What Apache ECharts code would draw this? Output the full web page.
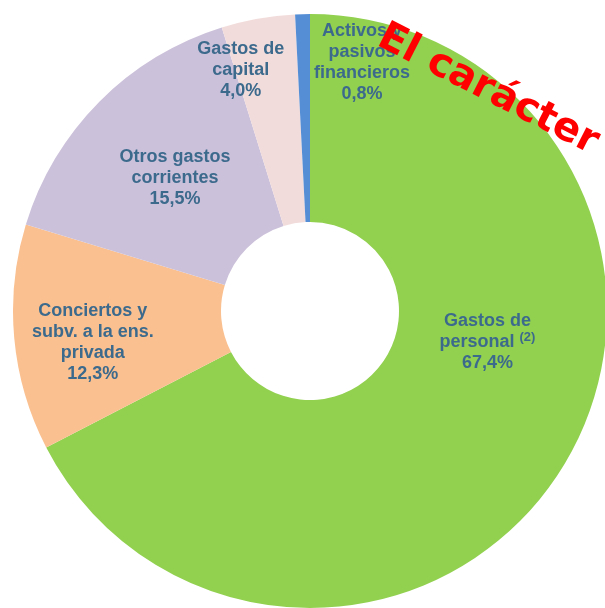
<!DOCTYPE html>
<html>
<head>
<meta charset="utf-8">
<script src="https://cdn.jsdelivr.net/npm/echarts@6/dist/echarts.min.js"></script>
<style>
  html, body { margin: 0; padding: 0; background: #fff; }
  #main { width: 605px; height: 608px; }
</style>
</head>
<body>
<div id="main"></div>
<script>
// data
var categories = ['Gastos de personal', 'Conciertos y subv. a la ens. privada', 'Otros gastos corrientes', 'Gastos de capital', 'Activos y pasivos financieros']
var labelLines = [
  ['Gastos de', 'personal {sup|(2)}'],
  ['Conciertos y', 'subv. a la ens.', 'privada'],
  ['Otros gastos', 'corrientes'],
  ['Gastos de', 'capital'],
  ['Activos y', 'pasivos', 'financieros']
]
var values = [67.4, 12.3, 15.5, 4.0, 0.8]
var colors = ['#92D050', '#FAC090', '#CCC1DA', '#F2DCDB', '#558ED5']

// label nudges from default inside position
var labelShift = [[10, -71], [-22, 14], [4, 5], [-35, -48], [57, -53]]

var chart = echarts.init(document.getElementById('main'))

var seriesData = values.map(function (v, i) {
  return { name: categories[i], value: v, itemStyle: { color: colors[i] } }
})

chart.setOption({
  animation: false,
  series: [{
    type: 'pie',
    center: [310, 311],
    radius: [89, 297],
    startAngle: 90,
    clockwise: true,
    data: seriesData,
    itemStyle: { borderWidth: 0 },
    label: {
      position: 'inside',
      color: '#3C6A8D',
      fontFamily: 'Liberation Sans, Arial, sans-serif',
      fontWeight: 'bold',
      fontSize: 18,
      lineHeight: 21,
      align: 'center',
      formatter: function (p) {
        return labelLines[p.dataIndex].join('\n') + '\n' + p.value.toFixed(1).replace('.', ',') + '%'
      },
      rich: {
        sup: { fontSize: 13, fontWeight: 'bold', color: '#3C6A8D', padding: [0, 0, 8, 0],
               fontFamily: 'Liberation Sans, Arial, sans-serif' }
      }
    },
    labelLine: { show: false },
    labelLayout: function (p) {
      var s = labelShift[p.dataIndex]
      return { dx: s[0], dy: s[1] }
    },
    emphasis: { disabled: true }
  }],
  graphic: [{
    type: 'text',
    x: 488,
    y: 90,
    rotation: -27 * Math.PI / 180,
    style: {
      text: 'El carácter',
      fill: '#FF0000',
      font: 'bold 40px "DejaVu Sans"',
      align: 'center',
      verticalAlign: 'middle'
    },
    z: 100
  }]
})
</script>
</body>
</html>
